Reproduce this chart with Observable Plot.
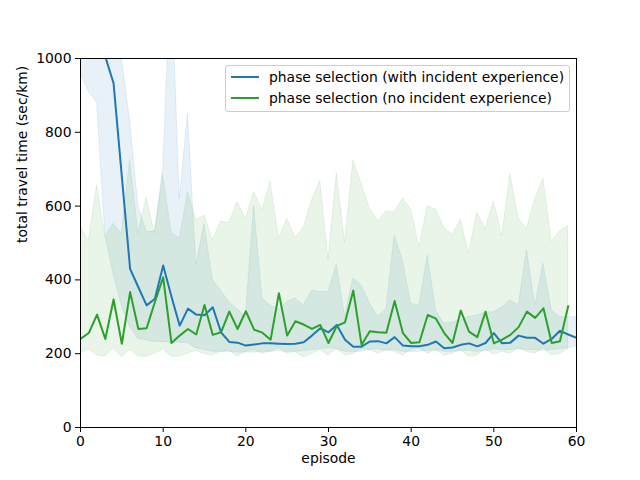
<!DOCTYPE html>
<html>
<head>
<meta charset="utf-8">
<script src="https://cdn.jsdelivr.net/npm/d3@7"></script>
<script src="https://cdn.jsdelivr.net/npm/@observablehq/plot@0.6"></script>
<style>
  html, body { margin: 0; padding: 0; background: white; }
  #wrap { position: relative; width: 640px; height: 480px; font-family: "DejaVu Sans", sans-serif; }
  #legend { position: absolute; left: 225px; top: 65px; width: 343px; height: 45px;
            border: 1px solid #cccccc; border-radius: 3px; background: rgba(255,255,255,0.8);
            font-size: 13.9px; color: black; }
  .row { position: absolute; left: 0; height: 16px; line-height: 16px; white-space: nowrap; }
  .row svg { position: absolute; left: 4px; top: 0; }
  .row span { position: absolute; left: 43px; top: 0; }
</style>
</head>
<body>
<div id="wrap"></div>
<script>
// ---- data ----
const seriesNames = ["phase selection (with incident experience)", "phase selection (no incident experience)"];
const seriesColors = ["#1f77b4", "#2ca02c"];
const xTicks = [0, 10, 20, 30, 40, 50, 60];
const yTicks = [0, 200, 400, 600, 800, 1000];

// episodes 0..60
const blueMean = [1500,1400,1250,1005,933,680,430,380,331,349,439,355,276,322,306,304,326,258,232,230,222,225,228,228,227,226,227,231,249,269,258,278,238,219,219,233,234,228,245,222,220,220,224,233,215,217,224,228,220,229,256,228,230,249,243,243,227,240,262,252,243];
const blueUpper = [1300,1300,1300,1300,1200,1000,830,600,530,530,700,1250,620,850,440,550,400,370,340,320,300,600,350,330,320,340,350,330,370,367,367,442,300,404,385,336,300,320,520,452,335,330,466,317,281,285,290,300,303,312,312,325,345,330,480,330,444,317,299,299,299];
const blueLower = [960,910,880,520,415,330,272,240,236,232,232,230,230,228,215,210,205,205,205,203,203,203,205,205,207,205,205,207,210,212,215,212,205,205,205,210,212,208,210,205,205,205,208,210,205,205,207,208,205,207,212,210,210,212,210,210,208,210,212,215,220];

// episodes 0..59
const greenMean = [240,256,306,240,347,227,367,267,269,340,407,229,249,267,252,332,251,258,314,267,315,265,257,238,364,249,288,279,267,278,229,275,285,371,224,261,258,257,343,256,229,231,305,295,256,229,317,260,245,314,228,238,251,272,314,297,323,229,234,329];
const greenUpper = [545,505,656,516,552,525,724,525,624,525,683,529,511,636,561,575,507,558,554,611,565,638,590,665,511,566,514,541,615,669,454,689,500,724,660,593,559,585,583,620,591,489,599,591,541,522,563,472,583,538,613,518,686,566,538,620,674,502,532,546];
const greenLower = [200,212,195,192,214,190,210,192,192,200,212,192,192,200,208,198,195,205,208,192,205,210,200,205,215,200,205,190,200,210,195,212,195,200,212,210,200,210,205,195,210,215,200,210,195,200,210,192,195,212,198,205,200,215,205,200,215,195,200,212];

const xLabel = "episode";
const yLabel = "total travel time (sec/km)";

// ---- tables built from the arrays ----
const blue = blueMean.map((v, i) => ({ep: i, mean: v, lo: blueLower[i], hi: blueUpper[i]}));
const green = greenMean.map((v, i) => ({ep: i, mean: v, lo: greenLower[i], hi: greenUpper[i]}));

const fs = 13.9;
const chart = Plot.plot({
  width: 640,
  height: 480,
  marginLeft: 80,
  marginRight: 64,
  marginTop: 58,
  marginBottom: 53,
  style: {fontFamily: "DejaVu Sans", fontSize: fs + "px", background: "white", color: "black", overflow: "visible"},
  x: {domain: [0, 60]},
  y: {domain: [0, 1000]},
  marks: [
    Plot.areaY(blue, {x: "ep", y1: "lo", y2: "hi", fill: seriesColors[0], fillOpacity: 0.1, stroke: seriesColors[0], strokeOpacity: 0.1, strokeWidth: 1, clip: true}),
    Plot.areaY(green, {x: "ep", y1: "lo", y2: "hi", fill: seriesColors[1], fillOpacity: 0.1, stroke: seriesColors[1], strokeOpacity: 0.1, strokeWidth: 1, clip: true}),
    Plot.line(blue, {x: "ep", y: "mean", stroke: seriesColors[0], strokeWidth: 2, clip: true}),
    Plot.line(green, {x: "ep", y: "mean", stroke: seriesColors[1], strokeWidth: 2, clip: true}),
    Plot.frame({stroke: "black", strokeWidth: 1}),
    Plot.axisX({ticks: xTicks, tickSize: 5, tickPadding: 4, label: null, fontSize: fs, tickFormat: d => String(d)}),
    Plot.axisY({ticks: yTicks, tickSize: 5, tickPadding: 4, label: null, fontSize: fs, tickFormat: d => String(d)}),
    Plot.text([xLabel], {frameAnchor: "bottom", dy: 35, text: d => d, fontSize: fs, fill: "black"}),
    Plot.text([yLabel], {frameAnchor: "left", dx: -58, rotate: -90, text: d => d, fontSize: fs, fill: "black"})
  ]
});
const wrap = document.getElementById("wrap");
wrap.appendChild(chart);

// legend inside the axes (upper right)
const legend = document.createElement("div");
legend.id = "legend";
seriesNames.forEach((name, i) => {
  const row = document.createElement("div");
  row.className = "row";
  row.style.top = (3 + i * 21) + "px";
  row.innerHTML = `<svg width="30" height="16"><line x1="1" x2="29" y1="8" y2="8" stroke="${seriesColors[i]}" stroke-width="2"/></svg><span>${name}</span>`;
  legend.appendChild(row);
});
wrap.appendChild(legend);
</script>
</body>
</html>
